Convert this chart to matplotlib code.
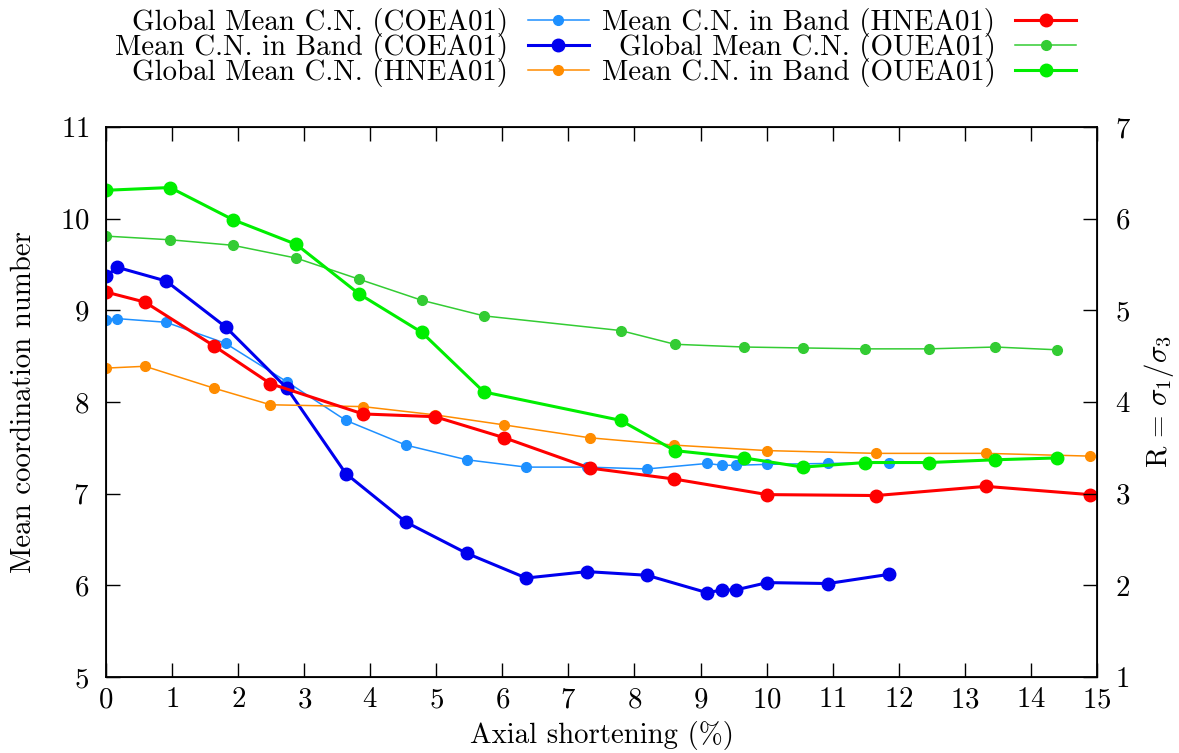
import matplotlib
matplotlib.use("Agg")
import matplotlib.pyplot as plt

plt.rcParams['font.family'] = 'serif'
plt.rcParams['font.serif'] = ['cmr10']
plt.rcParams['mathtext.fontset'] = 'cm'
plt.rcParams['axes.formatter.use_mathtext'] = True

# Data
x_co = [0, 0.17, 0.91, 1.81, 2.74, 3.63, 4.54, 5.46, 6.36, 7.28, 8.19, 9.10, 9.33, 9.53, 10.01, 10.93, 11.85]
global_co = [8.90, 8.91, 8.87, 8.64, 8.22, 7.80, 7.53, 7.37, 7.29, 7.29, 7.27, 7.33, 7.31, 7.31, 7.32, 7.33, 7.34]
band_co = [9.37, 9.47, 9.32, 8.82, 8.15, 7.22, 6.69, 6.35, 6.08, 6.15, 6.11, 5.92, 5.95, 5.95, 6.03, 6.02, 6.12]

x_hn = [0, 0.59, 1.64, 2.49, 3.89, 4.98, 6.03, 7.32, 8.60, 10.01, 11.66, 13.32, 14.89]
global_hn = [8.37, 8.39, 8.15, 7.97, 7.95, 7.86, 7.75, 7.61, 7.53, 7.47, 7.44, 7.44, 7.41]
band_hn = [9.20, 9.09, 8.61, 8.20, 7.87, 7.84, 7.61, 7.28, 7.16, 6.99, 6.98, 7.08, 6.99]

x_ou = [0, 0.97, 1.92, 2.88, 3.83, 4.78, 5.72, 7.79, 8.61, 9.66, 10.55, 11.49, 12.46, 13.46, 14.39]
global_ou = [9.81, 9.77, 9.71, 9.57, 9.34, 9.11, 8.94, 8.78, 8.63, 8.60, 8.59, 8.58, 8.58, 8.60, 8.57]
band_ou = [10.31, 10.34, 9.99, 9.72, 9.18, 8.76, 8.11, 7.80, 7.47, 7.39, 7.29, 7.34, 7.34, 7.37, 7.39]

labels = ["Global Mean C.N. (COEA01)", "Mean C.N. in Band (COEA01)",
          "Global Mean C.N. (HNEA01)", "Mean C.N. in Band (HNEA01)",
          "Global Mean C.N. (OUEA01)", "Mean C.N. in Band (OUEA01)"]

FS = 20.8

fig = plt.figure(figsize=(11.79, 7.53), dpi=100)
ax = fig.add_axes([0.0899, 0.1009, 0.8405, 0.7304])

thin = dict(lw=1.1, marker='o', ms=7)
thick = dict(lw=2.2, marker='o', ms=9)
ax.plot(x_co, global_co, color='#1e90ff', label=labels[0], **thin)
ax.plot(x_co, band_co, color='#0000ee', label=labels[1], **thick)
ax.plot(x_hn, global_hn, color='#ff8c00', label=labels[2], **thin)
ax.plot(x_hn, band_hn, color='#ff0000', label=labels[3], **thick)
ax.plot(x_ou, global_ou, color='#33cc33', label=labels[4], **thin)
ax.plot(x_ou, band_ou, color='#00ee00', label=labels[5], **thick)

ax.set_xlim(0, 15)
ax.set_ylim(5, 11)
ax.set_xticks(range(0, 16))
ax.set_yticks(range(5, 12))
ax.tick_params(direction='in', length=10, width=1, labelsize=FS, top=True)
ax.tick_params(axis='y', pad=12)
ax.tick_params(axis='x', pad=7)
for s in ax.spines.values():
    s.set_linewidth(1.3)
ax.set_xlabel("Axial shortening (%)", fontsize=FS, labelpad=6)
ax.set_ylabel("Mean coordination number", fontsize=FS, labelpad=16)

ax2 = ax.twinx()
ax2.set_ylim(1, 7)
ax2.set_yticks(range(1, 8))
ax2.tick_params(direction='in', length=10, width=1, labelsize=FS, pad=13)
ax2.set_ylabel(r'$\mathrm{R}\,=\,\sigma_1/\sigma_3$', fontsize=FS, labelpad=8)

handles, labs = ax.get_legend_handles_labels()
fig.legend(handles, labs, loc='upper center', bbox_to_anchor=(0.505, 1.012), ncol=2,
           frameon=False, markerfirst=False, fontsize=FS, handlelength=2.1,
           handletextpad=0.7, columnspacing=0.45, labelspacing=-0.15,
           borderpad=0.1)

fig.savefig("out.png", dpi=100)
